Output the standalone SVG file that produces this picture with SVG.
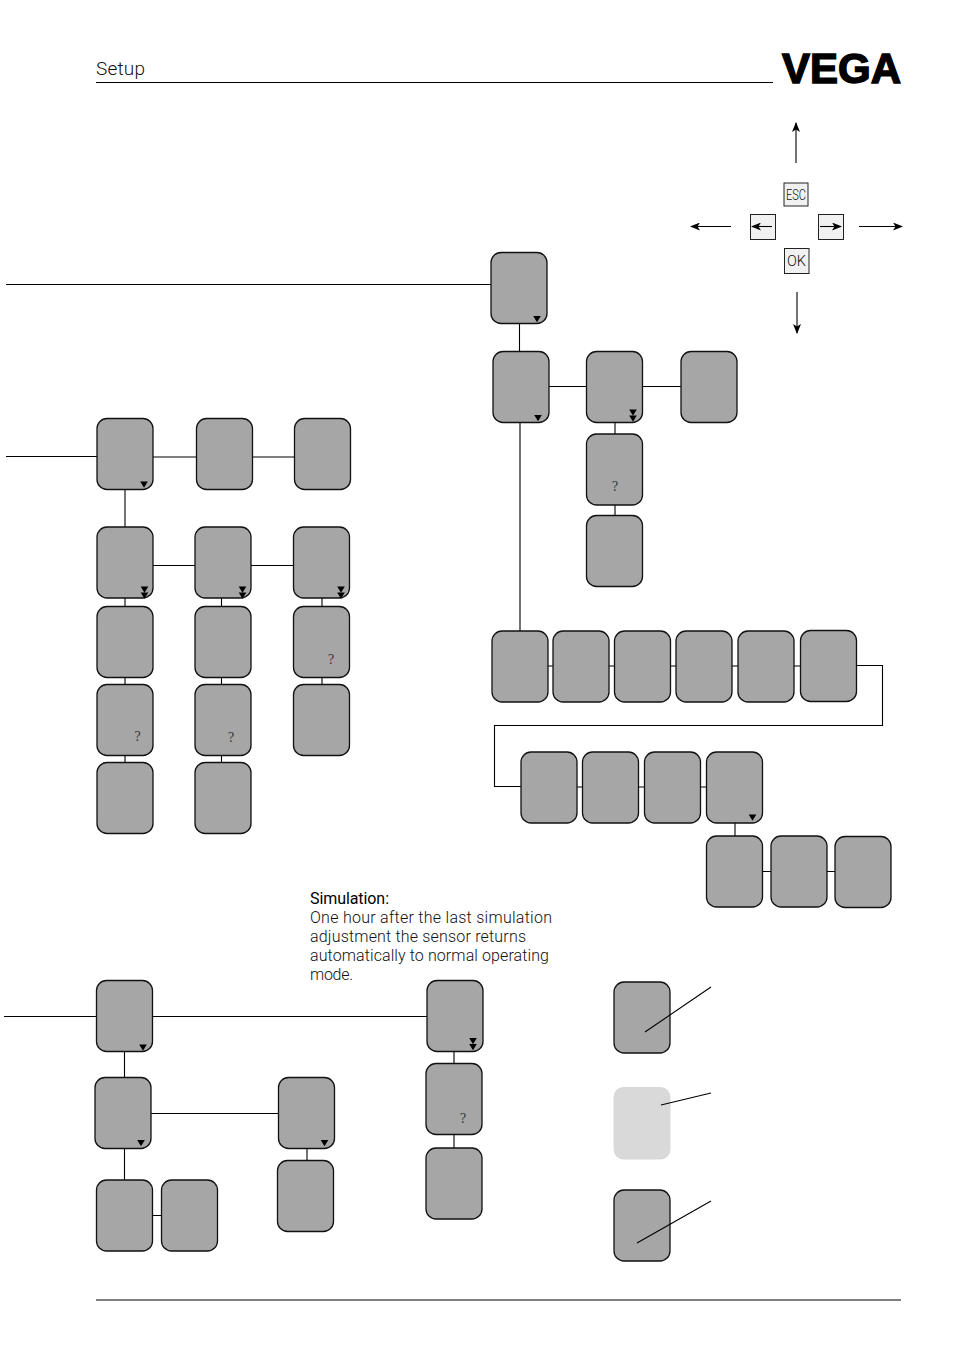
<svg xmlns="http://www.w3.org/2000/svg" xmlns:xlink="http://www.w3.org/1999/xlink" width="954" height="1352" viewBox="0 0 954 1352">
<style>
.n{fill:#a6a6a6;stroke:#111;stroke-width:1.3}
.l{fill:#d9d9d9}
.c{fill:none;stroke:#000;stroke-width:1.1}
.b{fill:#f1f1f1;stroke:#222;stroke-width:1}
.t{font-family:Roboto,"Liberation Sans",Arial,sans-serif;font-weight:300;fill:#111}
.q{font-family:"Liberation Serif","Times New Roman",serif;font-size:14px;fill:#333;text-anchor:middle}
</style>
<defs>
<marker id="a" viewBox="0 0 10 8" refX="9" refY="4" markerWidth="10" markerHeight="8" markerUnits="userSpaceOnUse" orient="auto"><path d="M0 0L10 4L0 8L2.5 4Z" fill="#000"/></marker>
<polygon id="t" points="-3.8,-3 3.8,-3 0,3.2" fill="#000"/>
<g id="d"><use href="#t" y="-3"/><use href="#t" y="3"/></g>
<rect id="r" width="56" height="71" rx="10" ry="10" class="n"/>
</defs>
<rect width="954" height="1352" fill="#fff"/>
<g id="page">
<text class="t" x="96" y="75" font-size="19" textLength="49" lengthAdjust="spacing">Setup</text>
<line class="c" x1="96" y1="82.500" x2="773" y2="82.500"/>
<line class="c" x1="96" y1="1300" x2="901" y2="1300"/>
<text x="782" y="83" font-family="Liberation Sans,Arial,sans-serif" font-weight="700" font-size="43" fill="#000" stroke="#000" stroke-width="1.500" textLength="119" lengthAdjust="spacingAndGlyphs">VEGA</text>
</g>
<g id="keys">
<rect class="b" x="784" y="183" width="24" height="23"/>
<text class="t" x="796" y="200" font-size="15" text-anchor="middle" textLength="20" lengthAdjust="spacingAndGlyphs">ESC</text>
<rect class="b" x="750.500" y="214.500" width="25" height="25"/>
<rect class="b" x="818.500" y="214.500" width="25" height="25"/>
<rect class="b" x="784.500" y="248.500" width="24.500" height="25"/>
<text class="t" x="796.500" y="266" font-size="14.500" text-anchor="middle">OK</text>
<line class="c" stroke-width="1.500" x1="772" y1="226.500" x2="752" y2="226.500" marker-end="url(#a)"/>
<line class="c" stroke-width="1.500" x1="820" y1="226.500" x2="841" y2="226.500" marker-end="url(#a)"/>
<line class="c" x1="796" y1="163" x2="796" y2="123" marker-end="url(#a)"/>
<line class="c" x1="731" y1="226.500" x2="691" y2="226.500" marker-end="url(#a)"/>
<line class="c" x1="859" y1="226.500" x2="902" y2="226.500" marker-end="url(#a)"/>
<line class="c" x1="797" y1="292" x2="797" y2="333" marker-end="url(#a)"/>
</g>
<g id="connectors" class="c">
<path d="M6 284.500H491M519.500 323V351M549 386.500H586M642 386.500H681M520 422V631M615 422V434M615 505V516"/>
<path d="M548 666H553M609 666H614M670 666H676M732 666H738M794 666H800M856 665.500H882.500V725.500H494.500V786.500H521M577 787H582M638 787H644M700 787H706M735 823V836M762 871.500H771M827 871.500H835"/>
<path d="M6 456.500H97M153 457H196M252 457H294M125 489V527M153 565.500H195M251 565.500H293"/>
<path d="M125 598V606M125 677V684M125 755V762M221.500 598V606M221.500 677V684M221.500 755V762M322 598V606M322 677V684"/>
<path d="M4 1016.500H96M152 1016.500H427M124.500 1051V1077M151 1113.500H278M124.500 1148V1180M152 1215.500H161M307 1148V1160M454 1051V1063M454 1134V1148"/>
</g>
<g id="n1"><use href="#r" x="491" y="252.500"/><use href="#t" x="537" y="319"/></g>
<g id="n2"><use href="#r" x="493" y="351.500"/><use href="#t" x="538" y="418"/></g>
<g id="n3"><use href="#r" x="586.500" y="351.500"/><use href="#d" x="633" y="415.500"/></g>
<g id="n4"><use href="#r" x="681" y="351.500"/></g>
<g id="n5"><use href="#r" x="586.500" y="434"/><text class="q" x="615" y="491">?</text></g>
<g id="n6"><use href="#r" x="586.500" y="515.500"/></g>
<g id="n7"><use href="#r" x="492" y="631"/></g>
<g id="n8"><use href="#r" x="553" y="631"/></g>
<g id="n9"><use href="#r" x="614.500" y="631"/></g>
<g id="n10"><use href="#r" x="676" y="631"/></g>
<g id="n11"><use href="#r" x="738" y="631"/></g>
<g id="n12"><use href="#r" x="800.500" y="630.500"/></g>
<g id="n13"><use href="#r" x="521" y="752"/></g>
<g id="n14"><use href="#r" x="582.500" y="752"/></g>
<g id="n15"><use href="#r" x="644.500" y="752"/></g>
<g id="n16"><use href="#r" x="706.500" y="752"/><use href="#t" x="752.500" y="817.500"/></g>
<g id="n17"><use href="#r" x="706.500" y="836"/></g>
<g id="n18"><use href="#r" x="771" y="836"/></g>
<g id="n19"><use href="#r" x="835" y="836.500"/></g>
<g id="n20"><use href="#r" x="97" y="418.500"/><use href="#t" x="144" y="484.500"/></g>
<g id="n21"><use href="#r" x="196.500" y="418.500"/></g>
<g id="n22"><use href="#r" x="294.500" y="418.500"/></g>
<g id="n23"><use href="#r" x="97" y="527"/><use href="#d" x="144.500" y="592.500"/></g>
<g id="n24"><use href="#r" x="195" y="527"/><use href="#d" x="242.500" y="592.500"/></g>
<g id="n25"><use href="#r" x="293.500" y="527"/><use href="#d" x="341" y="592.500"/></g>
<g id="n26"><use href="#r" x="97" y="606.500"/></g>
<g id="n27"><use href="#r" x="195" y="606.500"/></g>
<g id="n28"><use href="#r" x="293.500" y="606.500"/><text class="q" x="331" y="664">?</text></g>
<g id="n29"><use href="#r" x="97" y="684.500"/><text class="q" x="137.500" y="740.500">?</text></g>
<g id="n30"><use href="#r" x="195" y="684.500"/><text class="q" x="231" y="741.500">?</text></g>
<g id="n31"><use href="#r" x="293.500" y="684.500"/></g>
<g id="n32"><use href="#r" x="97" y="762.500"/></g>
<g id="n33"><use href="#r" x="195" y="762.500"/></g>
<g id="n34"><use href="#r" x="96.500" y="980.500"/><use href="#t" x="143" y="1047.500"/></g>
<g id="n35"><use href="#r" x="95" y="1077.500"/><use href="#t" x="141" y="1143"/></g>
<g id="n36"><use href="#r" x="278.500" y="1077.500"/><use href="#t" x="324.500" y="1143"/></g>
<g id="n37"><use href="#r" x="96.500" y="1180"/></g>
<g id="n38"><use href="#r" x="161.500" y="1180"/></g>
<g id="n39"><use href="#r" x="277.500" y="1160.500"/></g>
<g id="n40"><use href="#r" x="427" y="980.500"/><use href="#d" x="473" y="1044"/></g>
<g id="n41"><use href="#r" x="426" y="1063.500"/><text class="q" x="463" y="1123">?</text></g>
<g id="n42"><use href="#r" x="426" y="1148"/></g>
<g id="n43"><use href="#r" x="614" y="982"/></g>
<g id="n44"><rect class="l" x="613.500" y="1087" width="57" height="72.500" rx="10" ry="10"/></g>
<g id="n45"><use href="#r" x="614" y="1190"/></g>
<g id="legend-lines" class="c"><path d="M645 1032L711 987M661 1105L711 1093M637 1243L711 1201"/></g>
<g id="note" class="t" font-size="16">
<text x="310" y="904" textLength="79" font-weight="400" fill="#000">Simulation:</text>
<text x="310" y="923" textLength="242">One hour after the last simulation</text>
<text x="310" y="942" textLength="216">adjustment the sensor returns</text>
<text x="310" y="961" textLength="239">automatically to normal operating</text>
<text x="310" y="980" textLength="43">mode.</text>
</g>
</svg>
